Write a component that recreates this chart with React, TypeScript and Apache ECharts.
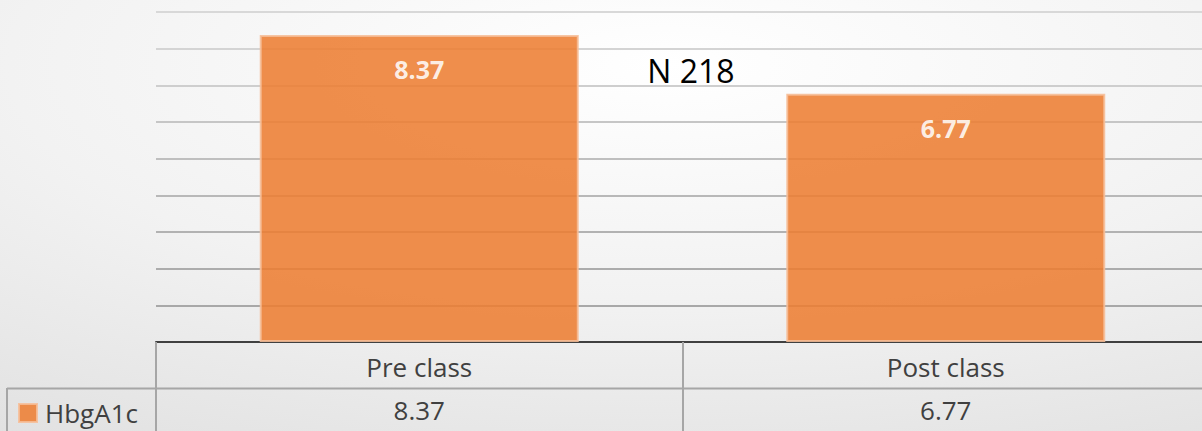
import React, { useEffect, useRef } from "react";
import * as echarts from "echarts";

const categories = ["Pre class", "Post class"];
const seriesName = "HbgA1c";
const values = [8.37, 6.77];
const annotation = "N 218";
const yMin = 0;
const yMax = 9;
const yInterval = 1;

export default function App() {
  const ref = useRef<HTMLDivElement>(null);
  useEffect(() => {
    document.body.style.margin = "0";
    document.body.style.overflow = "hidden";
    const chart = echarts.init(ref.current!, null, { renderer: "svg" });
    chart.setOption({
      animation: false,
      graphic: [
        {
          type: "rect",
          z: -10,
          silent: true,
          shape: { x: 0, y: 0, width: 1210, height: 431 },
          style: {
            fill: new echarts.graphic.RadialGradient(0.55, 0.15, 1.55, [
              { offset: 0, color: "#ffffff" },
              { offset: 0.35, color: "#f2f2f2" },
              { offset: 1, color: "#cfcfcf" },
            ]),
          },
        },
        {
          type: "text",
          x: 691,
          y: 70,
          style: {
            text: annotation,
            fill: "#000000",
            font: "32px 'Open Sans'",
            textAlign: "center",
            textVerticalAlign: "middle",
          },
        },
        {
          type: "line",
          shape: { x1: 7, y1: 388.5, x2: 1210, y2: 388.5 },
          style: { stroke: "#a6a6a6", lineWidth: 2 },
        },
        {
          type: "line",
          shape: { x1: 7, y1: 388, x2: 7, y2: 431 },
          style: { stroke: "#a6a6a6", lineWidth: 2 },
        },
      ],
      legend: {
        data: [seriesName],
        left: 18,
        top: 400,
        padding: 0,
        icon: "rect",
        itemWidth: 18,
        itemHeight: 18,
        itemGap: 8,
        textStyle: {
          fontFamily: "Open Sans",
          fontSize: 26,
          lineHeight: 26,
          color: "#404040",
          padding: [0, 0, 0, 3],
        },
      },
      grid: { left: 156, right: 1, top: 12, bottom: 89, containLabel: false },
      xAxis: {
        type: "category",
        data: categories,
        axisLine: { show: true, lineStyle: { color: "#404040", width: 2 } },
        axisTick: {
          show: true,
          length: 89,
          lineStyle: { color: "#a6a6a6", width: 2 },
        },
        axisLabel: {
          margin: 3,
          formatter: (v: string, i: number) => `{c|${v}}\n{c|${values[i]}}`,
          rich: {
            c: {
              fontFamily: "Open Sans",
              fontSize: 26,
              color: "#404040",
              lineHeight: 43,
              align: "center",
            },
          },
        },
      },
      yAxis: {
        type: "value",
        min: yMin,
        max: yMax,
        interval: yInterval,
        axisLabel: { show: false },
        axisLine: { show: false },
        axisTick: { show: false },
        splitLine: {
          show: true,
          lineStyle: {
            width: 2,
            color: [
              "#a6a6a6",
              "#a8a8a8",
              "#acacac",
              "#b2b2b2",
              "#b8b8b8",
              "#bfbfbf",
              "#c6c6c6",
              "#cecece",
              "#d4d4d4",
              "#d8d8d8",
            ],
          },
        },
      },
      series: [
        {
          name: seriesName,
          type: "bar",
          data: values,
          barWidth: 319,
          itemStyle: {
            color: "#ED7D31",
            opacity: 0.87,
            borderColor: "#F6BE98",
            borderWidth: 2,
          },
          label: {
            show: true,
            position: "insideTop",
            distance: 21,
            color: "#ffffff",
            fontFamily: "Open Sans",
            fontWeight: "bold",
            fontSize: 25,
            lineHeight: 26,
          },
        },
      ],
    });
    return () => chart.dispose();
  }, []);
  return (
    <div
      ref={ref}
      style={{ position: "absolute", left: 0, top: 0, width: 1210, height: 431 }}
    />
  );
}
